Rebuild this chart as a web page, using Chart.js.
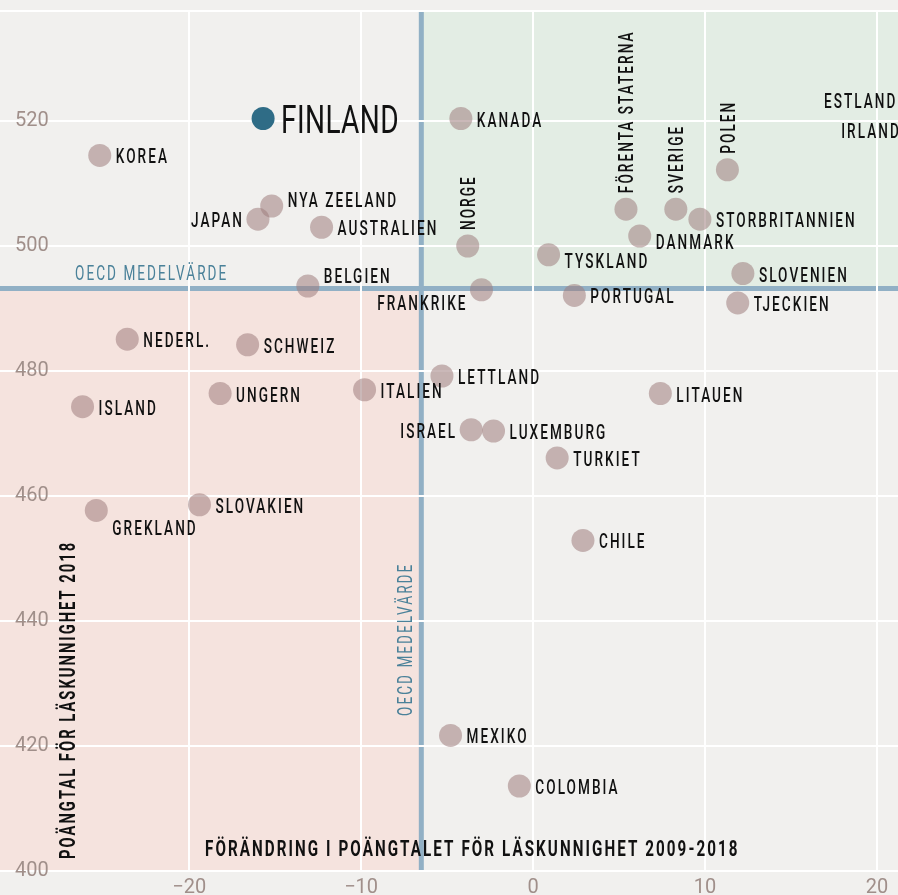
<!DOCTYPE html>
<html lang="sv">
<head>
<meta charset="utf-8">
<title>PISA läskunnighet</title>
<style>
  html, body { margin: 0; padding: 0; background: #f1f0ee; }
  #wrap { width: 898px; height: 895px; position: relative; }
</style>
<script src="https://cdn.jsdelivr.net/npm/chart.js@4.4.1/dist/chart.umd.min.js"></script>
</head>
<body>
<div id="wrap"><canvas id="chart"></canvas></div>
<script>
// Countries, change in reading score 2009-2018 and reading score 2018
const countries = [
  'FINLAND', 'KOREA', 'NYA ZEELAND', 'JAPAN', 'AUSTRALIEN', 'BELGIEN', 'KANADA',
  'NORGE', 'FRANKRIKE', 'TYSKLAND', 'FÖRENTA STATERNA', 'DANMARK', 'SVERIGE',
  'STORBRITANNIEN', 'POLEN', 'SLOVENIEN', 'PORTUGAL', 'TJECKIEN', 'ESTLAND', 'IRLAND',
  'NEDERL.', 'SCHWEIZ', 'UNGERN', 'ISLAND', 'ITALIEN', 'LETTLAND', 'GREKLAND',
  'SLOVAKIEN', 'ISRAEL', 'LUXEMBURG', 'TURKIET', 'LITAUEN', 'CHILE', 'MEXIKO', 'COLOMBIA',
];
const scoreChange = [
  -15.7, -25.2, -15.2, -16.0, -12.3, -13.1, -4.2,
  -3.8, -3.0, 0.9, 5.4, 6.2, 8.3,
  9.7, 11.3, 12.2, 2.4, 11.9, 22.0, 22.2,
  -23.6, -16.6, -18.2, -26.2, -9.8, -5.3, -25.4,
  -19.4, -3.6, -2.3, 1.4, 7.4, 2.9, -4.8, -0.8,
];
const readingScore = [
  520.4, 514.5, 506.4, 504.3, 503.0, 493.6, 520.4,
  500.0, 493.0, 498.6, 505.9, 501.6, 505.9,
  504.3, 512.2, 495.6, 492.1, 490.9, 523.3, 518.5,
  485.1, 484.2, 476.4, 474.3, 477.0, 479.2, 457.7,
  458.6, 470.6, 470.4, 466.1, 476.4, 452.9, 421.7, 413.6,
];
const highlight = 'FINLAND';
const oecdChange = -6.5;
const oecdScore = 493.2;
const xTickValues = [-20, -10, 0, 10, 20];
const yTickValues = [400, 420, 440, 460, 480, 500, 520];
const xTitle = 'FÖRÄNDRING I POÄNGTALET FÖR LÄSKUNNIGHET 2009-2018';
const yTitle = 'POÄNGTAL FÖR LÄSKUNNIGHET 2018';
const oecdLabel = 'OECD MEDELVÄRDE';

// where each label sits relative to its dot (default: right of the dot)
const labelPlacement = {
  'JAPAN': { side: 'left' },
  'NYA ZEELAND': { dy: -6 },
  'BELGIEN': { dy: -10 },
  'FRANKRIKE': { side: 'left', dy: 13 },
  'TYSKLAND': { dy: 6 },
  'DANMARK': { dy: 6 },
  'GREKLAND': { dy: 18 },
  'ISRAEL': { side: 'left' },
  'ESTLAND': { side: 'left' },
  'IRLAND': { side: 'left' },
  'NORGE': { side: 'up' },
  'FÖRENTA STATERNA': { side: 'up' },
  'SVERIGE': { side: 'up' },
  'POLEN': { side: 'up' },
};

const colors = {
  bg: '#f1f0ee',
  low: '#f5e3de',
  high: '#e3ede4',
  oecdLine: '#91b0c5',
  oecdText: '#4a8199',
  tick: '#a08f8a',
  dot: 'rgba(158, 126, 126, 0.55)',
  finland: '#2f6c86',
  text: '#111111',
};

// condensed, letter-spaced caps (squeezed Roboto)
function drawText(ctx, text, x, y, o) {
  const size = o.size || 20;
  const spacing = o.spacing ?? 3;
  ctx.save();
  ctx.translate(x, y);
  if (o.rotate) ctx.rotate(o.rotate);
  ctx.scale(o.squeeze || 0.68, 1);
  ctx.font = `${o.weight || 500} ${size}px Roboto`;
  ctx.letterSpacing = spacing + 'px';
  ctx.fillStyle = o.color || colors.text;
  ctx.textAlign = 'left';
  ctx.textBaseline = 'alphabetic';
  const w = ctx.measureText(text).width - spacing;
  let dx = 0;
  if (o.align === 'right') dx = -w;
  if (o.align === 'center') dx = -w / 2;
  ctx.fillText(text, dx, size * 0.355);
  ctx.restore();
}

const backdrop = {
  id: 'backdrop',
  beforeDraw(chart) {
    const { ctx, chartArea: a, scales: { x, y } } = chart;
    const ox = x.getPixelForValue(oecdChange);
    const oy = y.getPixelForValue(oecdScore);
    ctx.save();
    ctx.fillStyle = colors.bg;
    ctx.fillRect(0, 0, chart.width, chart.height);
    ctx.fillStyle = colors.low;
    ctx.fillRect(a.left, oy, ox - a.left, a.bottom - oy);
    ctx.fillStyle = colors.high;
    ctx.fillRect(ox, a.top, a.right - ox, oy - a.top);
    ctx.fillStyle = colors.oecdLine;
    ctx.fillRect(a.left, oy - 2.5, a.right - a.left, 5);
    ctx.fillRect(ox - 2.5, a.top, 5, a.bottom - a.top);
    ctx.restore();
  },
};

const labels = {
  id: 'labels',
  afterDatasetsDraw(chart) {
    const { ctx, chartArea: a, scales: { x, y } } = chart;
    const ox = x.getPixelForValue(oecdChange);
    const oy = y.getPixelForValue(oecdScore);

    countries.forEach((name, i) => {
      const px = x.getPixelForValue(scoreChange[i]);
      const py = y.getPixelForValue(readingScore[i]);
      if (name === highlight) {
        drawText(ctx, name, px + 18, py + 1, { size: 39, squeeze: 0.72, spacing: 0.5, weight: 400 });
        return;
      }
      const p = labelPlacement[name] || {};
      const dy = p.dy ?? 1;
      if (p.side === 'up') {
        drawText(ctx, name, px, py - 16, { rotate: -Math.PI / 2 });
      } else if (p.side === 'left') {
        drawText(ctx, name, px - 16, py + dy, { align: 'right' });
      } else {
        drawText(ctx, name, px + 16, py + dy, {});
      }
    });

    drawText(ctx, oecdLabel, a.left + 75, oy - 16, { color: colors.oecdText, weight: 400 });
    drawText(ctx, oecdLabel, ox - 16, y.getPixelForValue(424.8), {
      color: colors.oecdText, weight: 400, rotate: -Math.PI / 2,
    });
    drawText(ctx, xTitle, a.left + 205, a.bottom - 23, { weight: 700, size: 22, squeeze: 0.69, spacing: 3 });
    drawText(ctx, yTitle, a.left + 67, a.bottom - 12, {
      weight: 700, size: 22, squeeze: 0.67, spacing: 3, rotate: -Math.PI / 2,
    });
  },
};

const fmt = (v) => (v < 0 ? '\u2212' + Math.abs(v) : String(v));
const tickFont = { family: "'Liberation Sans Narrow', 'Roboto'", size: 20, weight: 400 };

new Chart(document.getElementById('chart'), {
  type: 'scatter',
  data: {
    datasets: [{
      data: countries.map((c, i) => ({ x: scoreChange[i], y: readingScore[i] })),
      pointRadius: 11.5,
      pointBorderWidth: 0,
      pointBackgroundColor: countries.map((c) => (c === highlight ? colors.finland : colors.dot)),
      clip: false,
    }],
  },
  options: {
    responsive: true,
    maintainAspectRatio: false,
    animation: false,
    events: [],
    layout: { autoPadding: false, padding: { top: 11, left: 0, right: 0, bottom: 0 } },
    plugins: { legend: { display: false }, tooltip: { enabled: false } },
    scales: {
      x: {
        type: 'linear',
        min: -31,
        max: 21.22,
        afterBuildTicks: (s) => { s.ticks = xTickValues.map((v) => ({ value: v })); },
        afterFit: (s) => {
          s.height = 24;
          s.paddingLeft = 0; s.paddingRight = 0; s.paddingTop = 0; s.paddingBottom = 0;
        },
        grid: { color: '#ffffff', lineWidth: 2, drawTicks: false },
        border: { display: false },
        ticks: {
          color: colors.tick,
          font: tickFont,
          padding: 5,
          maxRotation: 0,
          callback: (v) => fmt(v),
        },
      },
      y: {
        type: 'linear',
        min: 400,
        max: 537.6,
        afterBuildTicks: (s) => {
          s.ticks = yTickValues.map((v) => ({ value: v })).concat([{ value: s.max }]);
        },
        afterFit: (s) => {
          s.width = 0;
          s.paddingLeft = 0; s.paddingRight = 0; s.paddingTop = 0; s.paddingBottom = 0;
        },
        grid: { color: '#ffffff', lineWidth: 2, drawTicks: false },
        border: { display: false },
        ticks: {
          mirror: true,
          padding: 15,
          color: colors.tick,
          font: tickFont,
          callback: (v) => (yTickValues.includes(v) ? String(v) : ''),
        },
      },
    },
  },
  plugins: [backdrop, labels],
});
</script>
</body>
</html>
